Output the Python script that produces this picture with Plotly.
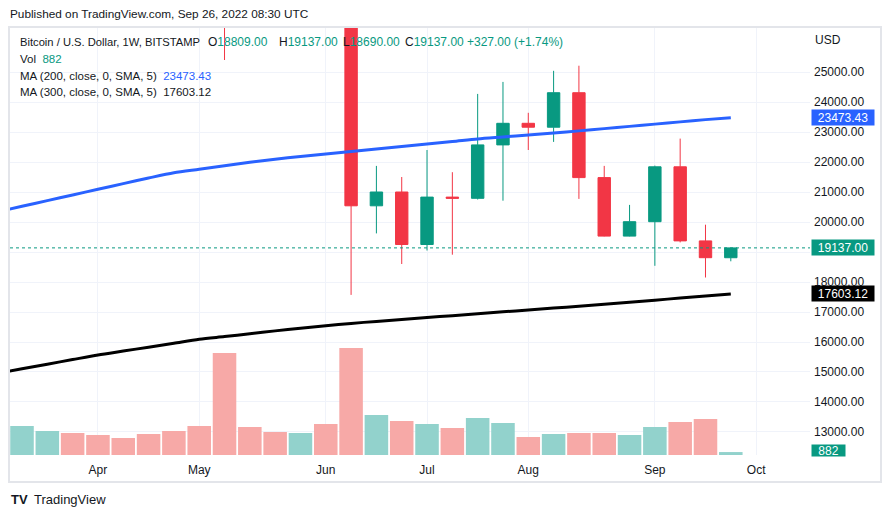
import pandas as pd
import plotly.graph_objects as go

# weekly bars, BITSTAMP BTC/USD
weeks = pd.date_range("2022-03-07", periods=30, freq="7D")

opens = [38400, 37800, 42200, 46800, 46400, 42150, 39700, 39450, 38450, 34050,
         31300, 29450, 29050, 29900, 26580, 20540, 21000, 19250, 20830, 20790,
         22570, 23290, 23160, 24310, 21480, 19530, 20010, 21840, 19370, 18809]
highs = [42600, 42400, 47000, 48200, 47200, 42400, 42900, 40800, 40000, 34250,
         31400, 30600, 32400, 31600, 26900, 21870, 21500, 22400, 21660, 24270,
         24670, 23640, 25040, 25210, 21870, 20570, 21880, 22780, 19910, 19137]
lows = [37200, 37600, 40500, 44200, 42100, 39200, 38600, 37700, 33700, 25400,
        28650, 28000, 29000, 26560, 17570, 19620, 18600, 19050, 18910, 20750,
        20710, 22400, 22670, 20770, 19520, 19520, 18540, 19320, 18150, 18690]
closes = [37800, 42200, 46800, 46400, 42150, 39700, 39450, 38450, 34050, 31300,
          29450, 29050, 29900, 26580, 20540, 21000, 19250, 20830, 20790, 22570,
          23290, 23160, 24310, 21480, 19530, 20010, 21840, 19370, 18810, 19137]
volumes = [9000, 8700, 7200, 6600, 6000, 5100, 6300, 7200, 8700, 30600,
           8400, 6900, 6600, 9300, 32100, 12000, 10200, 9300, 8100, 11100,
           9600, 5400, 6300, 6600, 6600, 6000, 8400, 9900, 10800, 882]
ma200 = [20334, 20523, 20712, 20901, 21090, 21278, 21466, 21641, 21757, 21874,
         21991, 22095, 22180, 22265, 22350, 22433, 22516, 22599, 22682, 22770,
         22836, 22902, 22968, 23038, 23113, 23188, 23263, 23338, 23413, 23473.43]
ma300 = [14952, 15106, 15260, 15414, 15567, 15697, 15827, 15957, 16088, 16180,
         16275, 16371, 16457, 16543, 16620, 16687, 16751, 16815, 16878, 16942,
         17005, 17068, 17131, 17193, 17255, 17324, 17394, 17464, 17534, 17603.12]

price_ticks = list(range(13000, 25001, 1000))
price_labels = ["" if v == 19000 else f"{v:.2f}" for v in price_ticks]  # hidden under price tag
month_ticks = ["2022-04-04", "2022-05-02", "2022-06-06", "2022-07-04",
               "2022-08-01", "2022-09-05", "2022-10-03"]
month_labels = ["Apr", "May", "Jun", "Jul", "Aug", "Sep", "Oct"]

UP, DOWN = "#089981", "#f23645"
UP_VOL, DOWN_VOL = "#92d2cc", "#f7a9a7"
TXT = "#131722"
FONT = "Liberation Sans"

L, R, T, B = 10, 810, 28, 455
def px(x): return (x - L) / (R - L)
def py(y): return (B - y) / (B - T)

vol_colors = [UP_VOL if c >= o else DOWN_VOL for o, c in zip(opens, closes)]

fig = go.Figure()
fig.add_trace(go.Bar(
    x=weeks, y=volumes, marker=dict(color=vol_colors, line=dict(width=0)),
    width=7 * 86400000 * 0.93, yaxis="y", hoverinfo="skip"
))
fig.add_trace(go.Candlestick(
    x=weeks, open=opens, high=highs, low=lows, close=closes, yaxis="y2",
    increasing=dict(line=dict(color=UP, width=1), fillcolor=UP),
    decreasing=dict(line=dict(color=DOWN, width=1), fillcolor=DOWN),
    hoverinfo="skip"
))
fig.add_trace(go.Scatter(x=weeks, y=ma200, mode="lines", yaxis="y2",
                         line=dict(color="#2962ff", width=3, shape="spline", smoothing=0.8),
                         hoverinfo="skip"))
fig.add_trace(go.Scatter(x=weeks, y=ma300, mode="lines", yaxis="y2",
                         line=dict(color="black", width=3, shape="spline", smoothing=0.8),
                         hoverinfo="skip"))

last_c, prev_c = closes[-1], closes[-2]
chg = last_c - prev_c
teal = lambda s: f"<span style='color:{UP}'>{s}</span>"

ann = []
def text(x, y, s, size=12, color=TXT, **kw):
    ann.append(dict(x=px(x), y=py(y), xref="paper", yref="paper", text=s,
                    showarrow=False, xanchor="left", yanchor="middle",
                    font=dict(family=FONT, size=size, color=color), **kw))

text(8, 14, "Published on TradingView.com, Sep 26, 2022 08:30 UTC", size=11.8)
text(18, 42, "Bitcoin / U.S. Dollar, 1W, BITSTAMP", size=11.2)
text(206, 42, "O" + teal(f"{opens[-1]:.2f}"))
text(277, 42, "H" + teal(f"{highs[-1]:.2f}"))
text(341, 42, "L" + teal(f"{lows[-1]:.2f}"))
text(403, 42, "C" + teal(f"{closes[-1]:.2f}"))
text(465, 42, teal(f"{chg:+.2f} ({chg / prev_c * 100:+.2f}%)"))
text(18, 59, "Vol  " + teal(f"{volumes[-1]}"), size=11.5)
text(18, 76, "MA (200, close, 0, SMA, 5)  " + f"<span style='color:#2962ff'>{ma200[-1]:.2f}</span>", size=11.5)
text(18, 92, f"MA (300, close, 0, SMA, 5)  {ma300[-1]:.2f}", size=11.5)
text(813, 40, "USD")
text(9, 500, "<b>TV</b>", size=13)
text(32, 500, "TradingView", size=13)

for val, bg in [(ma200[-1], "#2962ff"), (closes[-1], UP), (ma300[-1], "black")]:
    ann.append(dict(x=px(811), y=val, xref="paper", yref="y2", text=f"{val:.2f}",
                    showarrow=False, xanchor="left", yanchor="middle",
                    width=60, height=13, borderpad=1, bgcolor=bg,
                    font=dict(family=FONT, size=12, color="white")))
ann.append(dict(x=px(811), y=py(450), xref="paper", yref="paper", text=f"{volumes[-1]}",
                showarrow=False, xanchor="left", yanchor="middle",
                width=33, height=11, borderpad=0, bgcolor=UP,
                font=dict(family=FONT, size=12, color="white")))

fig.update_layout(
    width=891, height=518, margin=dict(l=L, r=891 - R, t=T, b=518 - B),
    paper_bgcolor="white", plot_bgcolor="white", showlegend=False,
    annotations=ann,
    xaxis=dict(
        type="date", rangeslider=dict(visible=False),
        range=[pd.Timestamp("2022-03-14") - pd.Timedelta(days=3.32),
               pd.Timestamp("2022-03-14") + pd.Timedelta(days=217.9)],
        tickvals=month_ticks, ticktext=month_labels, showgrid=True,
        gridcolor="#f0f3fa", gridwidth=1, showline=False, zeroline=False,
        ticks="", ticklabelstandoff=6,
        tickfont=dict(family=FONT, size=12, color=TXT)
    ),
    yaxis=dict(range=[0, 128100], visible=False, showgrid=False),
    yaxis2=dict(
        overlaying="y", side="right", range=[12233, 26467],
        tickvals=price_ticks, ticktext=price_labels, showgrid=True,
        gridcolor="#f0f3fa", gridwidth=1, zeroline=False, showline=False,
        ticks="", ticklabelstandoff=3,
        tickfont=dict(family=FONT, size=12, color=TXT)
    ),
    shapes=[
        dict(type="line", xref="paper", yref="y2", x0=0, x1=1,
             y0=closes[-1], y1=closes[-1], line=dict(color=UP, width=1, dash="dot")),
        dict(type="rect", xref="paper", yref="paper", x0=px(9), x1=px(881),
             y0=py(482), y1=py(27), line=dict(color="#e3e5ea", width=2)),
    ],
)

fig.write_html("out.html", config={"displayModeBar": False},
               post_script="document.body.style.margin='0';")
